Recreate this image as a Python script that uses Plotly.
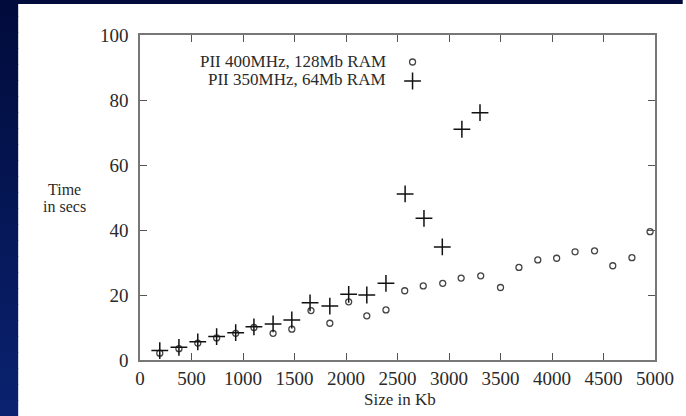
import plotly.graph_objects as go

# ---- data ----
pii400_x = [192, 378, 561, 744, 929, 1106, 1292, 1474, 1660, 1843, 2026, 2202, 2388,
            2570, 2750, 2939, 3118, 3308, 3500, 3679, 3862, 4045, 4224, 4413, 4590, 4776, 4952]
pii400_y = [2.1, 3.5, 5.2, 6.8, 8.2, 10.0, 8.2, 9.5, 15.2, 11.3, 17.9, 13.6, 15.4,
            21.3, 22.8, 23.6, 25.2, 25.9, 22.3, 28.5, 30.8, 31.3, 33.3, 33.6, 29.0, 31.5, 39.5]

pii350_x = [192, 378, 561, 744, 929, 1106, 1292, 1474, 1651, 1843, 2026, 2202, 2388,
            2574, 2757, 2935, 3125, 3301]
pii350_y = [2.9, 3.9, 5.6, 7.2, 8.4, 10.2, 11.1, 12.3, 17.6, 16.6, 20.2, 20.0, 23.6,
            51.1, 43.6, 34.8, 71.0, 76.1]

series_names = ["PII 400MHz, 128Mb RAM", "PII 350MHz, 64Mb RAM"]
x_ticks = [0, 500, 1000, 1500, 2000, 2500, 3000, 3500, 4000, 4500, 5000]
y_ticks = [0, 20, 40, 60, 80, 100]
x_title = "Size in Kb"
y_title_lines = ["Time", "in secs"]

W, H = 686, 416
ML, MR, MT, MB = 140, 26, 35, 56
PW, PH = W - ML - MR, H - MT - MB


def px_x(p):
    return (p - ML) / PW


def px_y(p):
    return (H - MB - p) / PH


SERIF = "Liberation Serif, Times New Roman, serif"
TXT = "#2a2a2a"

fig = go.Figure()
fig.add_trace(go.Scatter(
    x=pii400_x, y=pii400_y, mode="markers", name=" ",
    marker=dict(symbol="circle-open", size=6, color="#444444", line=dict(width=1.3, color="#444444")),
))
fig.add_trace(go.Scatter(
    x=pii350_x, y=pii350_y, mode="markers", name=" ",
    marker=dict(symbol="cross-thin-open", size=12, color="#111111", line=dict(width=1.5, color="#111111")),
))

shapes = []
# dark-blue gradient strips (left edge and top edge)
n = 26
top = (2, 12, 60)
bot = (10, 34, 112)
for i in range(n):
    t = i / (n - 1)
    c = tuple(int(top[k] + (bot[k] - top[k]) * t) for k in range(3))
    y0 = H * i / n
    y1 = H * (i + 1) / n + 1
    shapes.append(dict(type="rect", xref="paper", yref="paper", layer="above",
                       x0=px_x(-2), x1=px_x(17), y0=px_y(y1), y1=px_y(y0),
                       fillcolor="rgb(%d,%d,%d)" % c, line=dict(width=0)))
shapes.append(dict(type="rect", xref="paper", yref="paper", layer="above",
                   x0=px_x(-2), x1=px_x(W + 2), y0=px_y(4), y1=px_y(-2),
                   fillcolor="rgb(2,12,60)", line=dict(width=0)))

annotations = [
    dict(text=y_title_lines[0], xref="paper", yref="paper", x=px_x(64), y=px_y(189),
         xanchor="center", yanchor="middle",
         showarrow=False, font=dict(family=SERIF, size=16, color=TXT)),
    dict(text=y_title_lines[1], xref="paper", yref="paper", x=px_x(64), y=px_y(206),
         xanchor="center", yanchor="middle",
         showarrow=False, font=dict(family=SERIF, size=16, color=TXT)),
    dict(text=x_title, xref="paper", yref="paper", x=px_x(403), y=px_y(399),
         xanchor="center", yanchor="middle",
         showarrow=False, font=dict(family=SERIF, size=17, color=TXT)),
    dict(text=series_names[0], xref="paper", yref="paper", x=px_x(390), y=px_y(62),
         xanchor="right", yanchor="middle", showarrow=False,
         font=dict(family=SERIF, size=17, color=TXT)),
    dict(text=series_names[1], xref="paper", yref="paper", x=px_x(390), y=px_y(80),
         xanchor="right", yanchor="middle", showarrow=False,
         font=dict(family=SERIF, size=17, color=TXT)),
]

axis_common = dict(showline=True, linecolor="#777777", linewidth=1.5, mirror="ticks",
                   ticks="inside", ticklen=7, tickwidth=1.3, tickcolor="#555555",
                   showgrid=False, zeroline=False,
                   tickfont=dict(family=SERIF, size=19, color=TXT))

fig.update_layout(
    width=W, height=H,
    margin=dict(l=ML, r=MR, t=MT, b=MB),
    paper_bgcolor="white",
    plot_bgcolor="white",
    shapes=shapes,
    annotations=annotations,
    showlegend=True,
    legend=dict(x=px_x(395), y=px_y(47.5), xanchor="left", yanchor="top",
                bgcolor="rgba(0,0,0,0)", font=dict(family=SERIF, size=10),
                tracegroupgap=0, itemwidth=30),
    xaxis=dict(range=[0, 5000], tickvals=x_ticks, ticktext=[str(v) for v in x_ticks], **axis_common),
    yaxis=dict(range=[0, 100], tickvals=y_ticks, ticktext=[str(v) for v in y_ticks], ticklabelstandoff=6, **axis_common),
)

fig.write_html("out.html")
